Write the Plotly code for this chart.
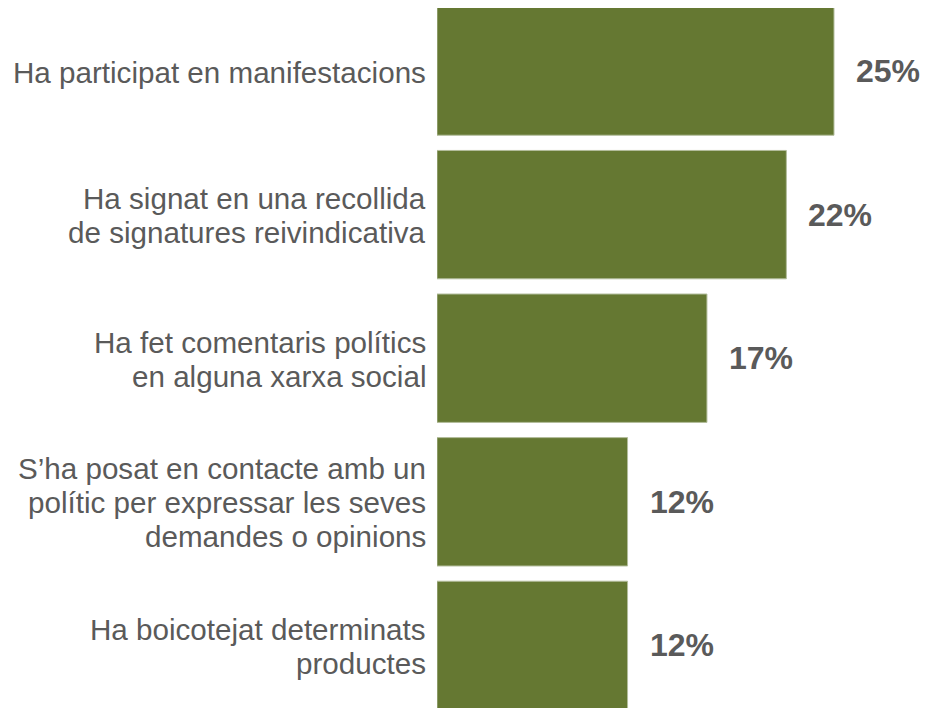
import plotly.graph_objects as go

categories = [
    ["Ha participat en manifestacions"],
    ["Ha signat en una recollida", "de signatures reivindicativa"],
    ["Ha fet comentaris polítics", "en alguna xarxa social"],
    ["S’ha posat en contacte amb un", "polític per expressar les seves", "demandes o opinions"],
    ["Ha boicotejat determinats", "productes"],
]
values = [25, 22, 17, 12, 12]
value_labels = ["25%", "22%", "17%", "12%", "12%"]

bar_color = "#657832"
text_color = "#5a5a5a"
font_family = "Liberation Sans, Arial, sans-serif"
line_step = 34

positions = list(range(len(values)))

fig = go.Figure()
fig.add_trace(go.Bar(
    x=values,
    y=positions,
    orientation="h",
    marker=dict(color=bar_color, line=dict(color="#b3bd9c", width=1)),
    hoverinfo="skip",
))

for i, (v, lab) in enumerate(zip(values, value_labels)):
    fig.add_annotation(
        x=v, y=i, text=f"<b>{lab}</b>", showarrow=False,
        xanchor="left", yanchor="middle", xshift=20,
        font=dict(family=font_family, size=32, color=text_color),
    )

for i, lines in enumerate(categories):
    n = len(lines)
    for k, line in enumerate(lines):
        fig.add_annotation(
            x=0, y=i, text=line, showarrow=False,
            xanchor="right", yanchor="middle", xshift=-9,
            yshift=((n - 1) / 2 - k) * line_step - 1,
            font=dict(family=font_family, size=29.6, color=text_color),
        )

fig.update_layout(
    width=920, height=700,
    margin=dict(l=429, r=0, t=0, b=0),
    paper_bgcolor="white", plot_bgcolor="white",
    bargap=0.106,
    showlegend=False,
    font=dict(family=font_family, color=text_color),
)
fig.update_xaxes(range=[0, 30.92], visible=False)
fig.update_yaxes(range=[4.436, -0.439], visible=False)

fig.write_html("out.html")
